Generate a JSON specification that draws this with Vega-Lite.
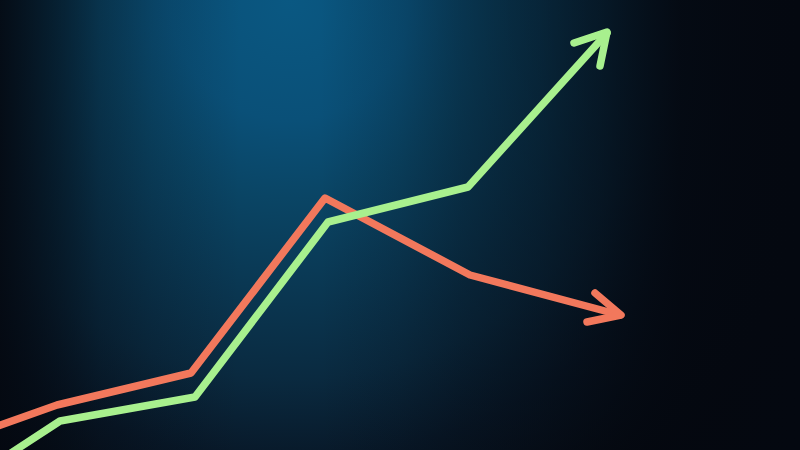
{
  "$schema": "https://vega.github.io/schema/vega-lite/v6.json",
  "width": 800,
  "height": 450,
  "autosize": {"type": "fit", "contains": "padding"},
  "padding": 0,
  "background": "#050509",
  "config": {"view": {"stroke": null}},
  "layer": [
    {
      "data": {"values": [{"x0": 0, "x1": 800, "y0": 0, "y1": 450}]},
      "mark": {
        "type": "rect",
        "color": {
          "gradient": "radial",
          "x1": 0.3625, "y1": 0.219, "r1": 0,
          "x2": 0.3625, "y2": 0.219, "r2": 0.75,
          "stops": [
            {"offset": 0, "color": "#0a5882"},
            {"offset": 0.2, "color": "#0a5078"},
            {"offset": 0.33, "color": "#0a4565"},
            {"offset": 0.63, "color": "#0a2a40"},
            {"offset": 0.77, "color": "#081828"},
            {"offset": 1, "color": "#050509"}
          ]
        }
      },
      "encoding": {
        "x": {"field": "x0", "type": "quantitative", "scale": {"domain": [0, 800], "nice": false, "zero": false}, "axis": null},
        "x2": {"field": "x1"},
        "y": {"field": "y0", "type": "quantitative", "scale": {"domain": [450, 0], "nice": false, "zero": false}, "axis": null},
        "y2": {"field": "y1"}
      }
    },
    {
      "data": {"values": [{"x0": 0, "x1": 800, "y0": 0, "y1": 450}]},
      "mark": {
        "type": "rect",
        "color": {
          "gradient": "linear",
          "x1": 0, "y1": 0, "x2": 1, "y2": 0,
          "stops": [
            {"offset": 0, "color": "rgba(4,8,16,0.9)"},
            {"offset": 0.075, "color": "rgba(4,8,16,0.55)"},
            {"offset": 0.125, "color": "rgba(4,8,16,0.3)"},
            {"offset": 0.19, "color": "rgba(4,8,16,0.15)"},
            {"offset": 0.3, "color": "rgba(4,8,16,0)"},
            {"offset": 0.4, "color": "rgba(4,8,16,0)"},
            {"offset": 0.5, "color": "rgba(4,8,16,0.15)"},
            {"offset": 0.575, "color": "rgba(4,8,16,0.3)"},
            {"offset": 0.675, "color": "rgba(4,8,16,0.45)"},
            {"offset": 0.75, "color": "rgba(4,8,16,0.62)"},
            {"offset": 0.85, "color": "rgba(4,8,16,0.92)"},
            {"offset": 1, "color": "rgba(4,8,16,1)"}
          ]
        }
      },
      "encoding": {
        "x": {"field": "x0", "type": "quantitative", "scale": {"domain": [0, 800], "nice": false, "zero": false}, "axis": null},
        "x2": {"field": "x1"},
        "y": {"field": "y0", "type": "quantitative", "scale": {"domain": [450, 0], "nice": false, "zero": false}, "axis": null},
        "y2": {"field": "y1"}
      }
    },
    {
      "data": {
        "values": [
          {"path": "red", "series": "down", "i": 0, "x": -5, "y": 427},
          {"path": "red", "series": "down", "i": 1, "x": 57, "y": 405},
          {"path": "red", "series": "down", "i": 2, "x": 191, "y": 373},
          {"path": "red", "series": "down", "i": 3, "x": 325, "y": 198},
          {"path": "red", "series": "down", "i": 4, "x": 470, "y": 275},
          {"path": "red", "series": "down", "i": 5, "x": 620, "y": 315},
          {"path": "redhead", "series": "down", "i": 0, "x": 595, "y": 293},
          {"path": "redhead", "series": "down", "i": 1, "x": 621, "y": 315},
          {"path": "redhead", "series": "down", "i": 2, "x": 587, "y": 322},
          {"path": "green", "series": "up", "i": 0, "x": 8, "y": 455},
          {"path": "green", "series": "up", "i": 1, "x": 60, "y": 421},
          {"path": "green", "series": "up", "i": 2, "x": 195, "y": 397},
          {"path": "green", "series": "up", "i": 3, "x": 328, "y": 222},
          {"path": "green", "series": "up", "i": 4, "x": 468, "y": 187},
          {"path": "green", "series": "up", "i": 5, "x": 607, "y": 33},
          {"path": "greenhead", "series": "up", "i": 0, "x": 574, "y": 43},
          {"path": "greenhead", "series": "up", "i": 1, "x": 607, "y": 32},
          {"path": "greenhead", "series": "up", "i": 2, "x": 600, "y": 66}
        ]
      },
      "mark": {"type": "line", "strokeWidth": 7.5, "strokeJoin": "round", "strokeCap": "round", "clip": true},
      "encoding": {
        "x": {"field": "x", "type": "quantitative", "scale": {"domain": [0, 800], "nice": false, "zero": false}, "axis": null},
        "y": {"field": "y", "type": "quantitative", "scale": {"domain": [450, 0], "nice": false, "zero": false}, "axis": null},
        "detail": {"field": "path"},
        "order": {"field": "i"},
        "color": {"field": "series", "type": "nominal", "scale": {"domain": ["up", "down"], "range": ["#a8f08e", "#f2785c"]}, "legend": null}
      }
    }
  ]
}
